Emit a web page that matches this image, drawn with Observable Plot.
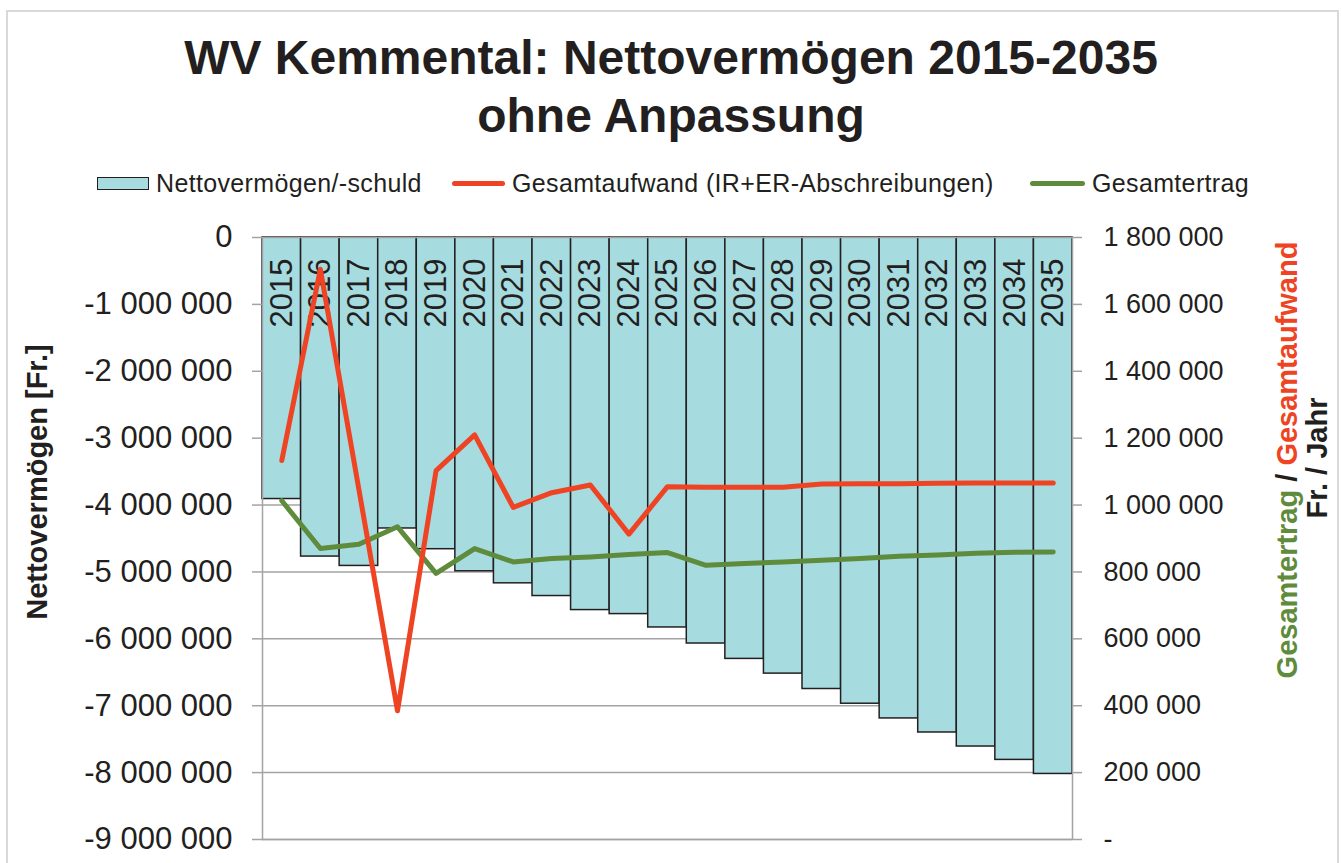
<!DOCTYPE html>
<html>
<head>
<meta charset="utf-8">
<script src="https://cdn.jsdelivr.net/npm/d3@7"></script>
<script src="https://cdn.jsdelivr.net/npm/@observablehq/plot@0.6"></script>
<style>
  body { margin:0; background:#fff; font-family:"Liberation Sans", Arial, sans-serif; color:#231f20; }
  .abs { position:absolute; white-space:nowrap; }
  #frame { left:6px; top:10px; width:1329px; height:900px; border:2px solid #d9d9d9; border-bottom:none; }
  .title { left:0; width:1342px; text-align:center; font-weight:bold; font-size:48px; line-height:58px; }
  .leg { font-size:25px; line-height:30px; top:168px; letter-spacing:0.35px; }
  .rot { transform:translate(-50%,-50%) rotate(-90deg); font-weight:bold; font-size:29px; line-height:32px; }
</style>
</head>
<body>
<div id="frame" class="abs"></div>
<div class="abs title" style="top:29px">WV Kemmental: Nettovermögen 2015-2035</div>
<div class="abs title" style="top:87px">ohne Anpassung</div>

<div class="abs" style="left:97px;top:177px;width:50px;height:11px;background:#a6dbe0;border:1.5px solid #231f20"></div>
<div class="abs leg" style="left:156px">Nettovermögen/-schuld</div>
<div class="abs" style="left:452px;top:181px;width:53px;height:5px;background:#ef4423;border-radius:3px"></div>
<div class="abs leg" style="left:512px">Gesamtaufwand (IR+ER-Abschreibungen)</div>
<div class="abs" style="left:1030px;top:181px;width:55px;height:5px;background:#5f8b3c;border-radius:3px"></div>
<div class="abs leg" style="left:1092px">Gesamtertrag</div>

<div class="abs rot" style="left:37px;top:482px">Nettovermögen [Fr.]</div>
<div class="abs rot" style="left:1287px;top:460px"><span style="color:#5f8b3c">Gesamtertrag</span> / <span style="color:#ef4423">Gesamtaufwand</span></div>
<div class="abs rot" style="left:1317px;top:458px">Fr. / Jahr</div>

<div id="chart" class="abs" style="left:0;top:200px"></div>

<script>
const years = ["2015","2016","2017","2018","2019","2020","2021","2022","2023","2024","2025","2026","2027","2028","2029","2030","2031","2032","2033","2034","2035"];
const netto = [-3910000,-4770000,-4910000,-4350000,-4660000,-4990000,-5170000,-5360000,-5570000,-5630000,-5830000,-6070000,-6300000,-6520000,-6750000,-6970000,-7190000,-7400000,-7610000,-7810000,-8020000];
const aufwand = [1133000,1705000,1046000,385000,1103000,1210000,993000,1037000,1060000,913000,1055000,1053000,1053000,1053000,1063000,1064000,1064000,1065000,1066000,1066000,1066000];
const ertrag = [1013000,870000,883000,935000,796000,870000,830000,840000,845000,852000,858000,820000,825000,830000,835000,840000,847000,851000,856000,859000,860000];
const leftTicks = [0,-1000000,-2000000,-3000000,-4000000,-5000000,-6000000,-7000000,-8000000,-9000000];
const leftDomain = [-9000000, 0];
const rightDomain = [0, 1800000];

const toLeft = d3.scaleLinear().domain(rightDomain).range(leftDomain);
const toRight = toLeft.invert;
const loc = d3.formatLocale({decimal:".", thousands:" ", grouping:[3], currency:["",""], minus:"-"});
const fmt = loc.format(",");

const data = years.map((y,i) => ({year:y, netto:netto[i], aufwand:toLeft(aufwand[i]), ertrag:toLeft(ertrag[i])}));

const chart = Plot.plot({
  width:1342, height:663,
  marginTop:37, marginBottom:24, marginLeft:262, marginRight:270,
  style:{fontFamily:'"Liberation Sans", Arial, sans-serif', color:"#231f20", background:"transparent"},
  x:{type:"band", domain:years, padding:0, round:false, axis:null},
  y:{domain:leftDomain, axis:null},
  marks:[
    Plot.gridY(leftTicks, {stroke:"#a3a3a3", strokeOpacity:1, strokeWidth:1.5}),
    Plot.barY(data, {x:"year", y1:0, y2:"netto", fill:"#a6dbe0", stroke:"#231f20", strokeWidth:1.5}),
    Plot.frame({stroke:"#a3a3a3", strokeWidth:1.5}),
    Plot.text(years, {x:d=>d, frameAnchor:"top", dy:90, rotate:-90, textAnchor:"start", lineAnchor:"middle", fontSize:31, fill:"#231f20"}),
    Plot.axisY({anchor:"left", ticks:leftTicks, tickSize:10, tickPadding:20, tickFormat:fmt, fontSize:31, stroke:"#a3a3a3", strokeWidth:1.5, fill:"#231f20", label:null}),
    Plot.axisY({anchor:"right", ticks:leftTicks, tickSize:9, tickPadding:22, tickFormat:d => { const v = Math.round(toRight(d)); return v === 0 ? "-" : fmt(v); }, fontSize:27, stroke:"#a3a3a3", strokeWidth:1.5, fill:"#231f20", label:null}),
    Plot.line(data, {x:"year", y:"ertrag", stroke:"#5f8b3c", strokeWidth:5, strokeLinejoin:"round", strokeLinecap:"round"}),
    Plot.line(data, {x:"year", y:"aufwand", stroke:"#ef4423", strokeWidth:5, strokeLinejoin:"round", strokeLinecap:"round"})
  ]
});
document.getElementById("chart").appendChild(chart);
</script>
</body>
</html>
